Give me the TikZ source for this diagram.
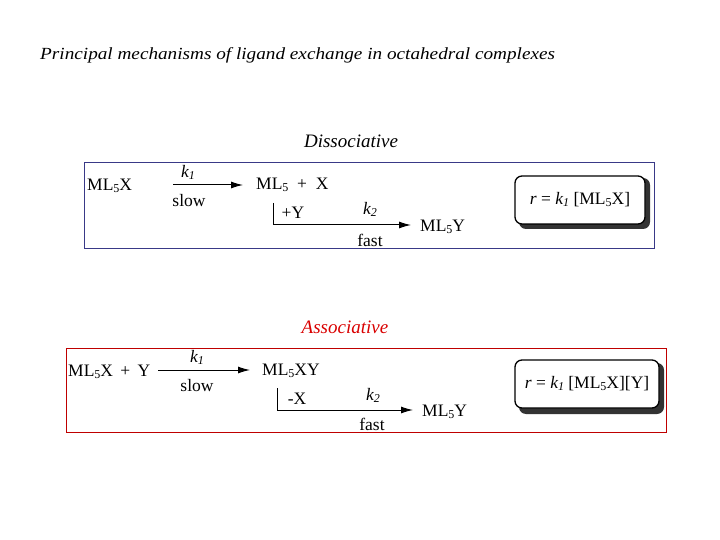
\documentclass[tikz,border=0pt]{standalone}
\usepackage{fontspec}
\setmainfont{Liberation Serif}
\usetikzlibrary{arrows.meta}
\newcommand{\sbs}[1]{\raisebox{-0.25ex}{\fontsize{12}{12}\selectfont #1}}
\tikzset{
 t/.style={inner sep=0pt,font=\fontsize{17.5}{18}\selectfont},
 arr/.style={line width=1pt,-{Latex[length=12pt,width=7pt]}},
 ln/.style={line width=1pt},
 rate/.style={draw,line width=1.3pt,rounded corners=7pt,fill=white},
 shadow/.style={fill=black!80,rounded corners=7pt},
}
\begin{document}
\begin{tikzpicture}[x=1pt,y=-1pt]
\useasboundingbox (0,0) rectangle (720,540);
\node[t,anchor=west,font=\fontsize{17}{18}\selectfont\itshape,xscale=1.13] (title) at (40,55) {Principal mechanisms of ligand exchange in octahedral complexes};
% Dissociative
\node[t,font=\fontsize{19}{20}\selectfont\itshape] (dh) at (351,141) {Dissociative};
\draw[draw=black!45!blue!55!gray,line width=0.8pt] (84,162) rectangle (654,248);
\node[t,anchor=west] (a1) at (87,186) {ML\sbs{5}X};
\node[t,anchor=west] (b1) at (256,185) {ML\sbs{5} \ + \ X};
\draw[arr] (173,185) -- (243,185);
\node[t] (k1a) at (188,172) {\textit{k\sbs{1}}};
\node[t] (s1) at (189,201) {slow};
\coordinate (v1) at (273,203); \coordinate (c1) at (273,225);
\draw[ln] (v1) -- (c1);
\node[t,anchor=west] (c1n) at (420,227) {ML\sbs{5}Y};
\draw[arr] (c1) -- (411,225);
\node[t] (y1) at (293,213) {+Y};
\node[t] (k2a) at (370,209) {\textit{k\sbs{2}}};
\node[t] (f1) at (370,240) {fast};
\fill[shadow] (519,178) rectangle (650,229);
\node[rate,minimum width=130pt,minimum height=48pt,t] (r1) at (580,200) {\textit{r} = \textit{k\sbs{1}} [ML\sbs{5}X]};
% Associative
\node[t,font=\fontsize{19}{20}\selectfont\itshape,text=red!85!black] (ah) at (345,327) {Associative};
\draw[draw=red!75!black,line width=0.8pt] (66,348) rectangle (666,432);
\node[t,anchor=west] (a2) at (68,372) {ML\sbs{5}X \,+\, Y};
\draw[arr] (158,370) -- (250,370);
\node[t] (k1b) at (197,357) {\textit{k\sbs{1}}};
\node[t] (s2) at (197,386) {slow};
\node[t,anchor=west] (b2) at (262,371) {ML\sbs{5}XY};
\coordinate (v2) at (277,388); \coordinate (c2) at (277,410);
\draw[ln] (v2) -- (c2);
\draw[arr] (c2) -- (413,410);
\node[t,anchor=west] (c2n) at (422,412) {ML\sbs{5}Y};
\node[t] (x2) at (297,399) {-X};
\node[t] (k2b) at (373,395) {\textit{k\sbs{2}}};
\node[t] (f2) at (372,424) {fast};
\fill[shadow] (519,363) rectangle (664,414);
\node[rate,minimum width=144pt,minimum height=48pt,t] (r2) at (587,384) {\textit{r} = \textit{k\sbs{1}} [ML\sbs{5}X][Y]};
\end{tikzpicture}
\end{document}
